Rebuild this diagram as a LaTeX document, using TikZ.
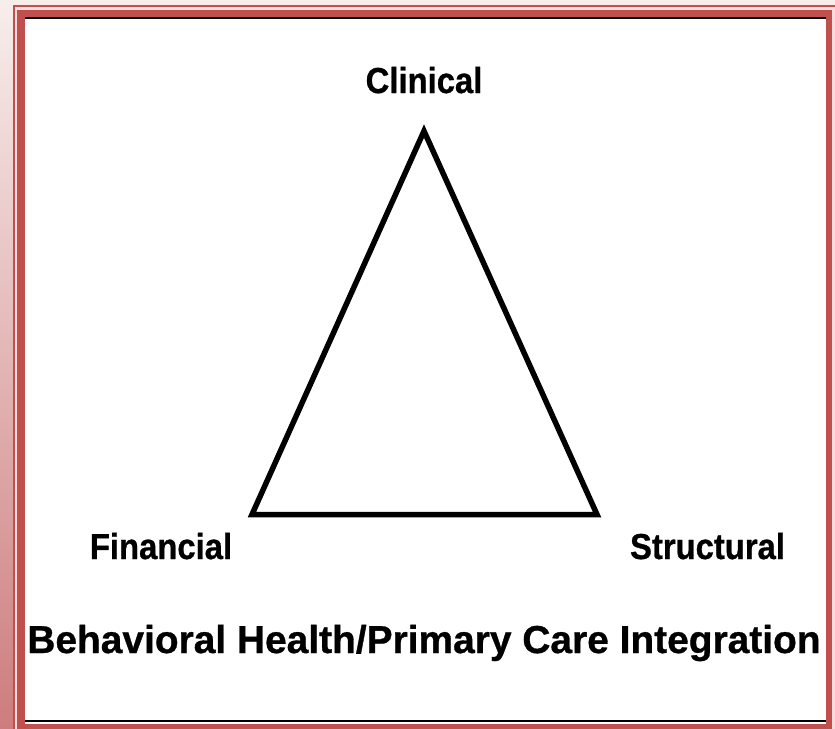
\documentclass[tikz,border=0pt]{standalone}
\usepackage{fontspec}
\setmainfont{Liberation Sans}
\newfontfamily\heavysans{Liberation Sans Bold}[FakeBold=0.8]
\definecolor{framered}{RGB}{192,80,77}
\definecolor{gappink}{RGB}{244,222,221}
\definecolor{bgtop}{RGB}{247,238,236}
\definecolor{bgbot}{RGB}{205,125,125}
\begin{document}
\begin{tikzpicture}[x=1pt,y=-1pt,
  lbl/.style={font=\heavysans\fontsize{32.8}{36}\selectfont, anchor=base, inner sep=0pt},
  ttl/.style={font=\heavysans\fontsize{38.9}{42}\selectfont, anchor=base, inner sep=0pt},
  tri/.style={line width=5.5pt, line join=miter, black}]
\useasboundingbox (0,0) rectangle (835,728);
% background and frame
\shade[top color=bgtop,bottom color=bgbot] (0,0) rectangle (835,728);
\draw[framered, line width=2pt] (14,740) -- (14,6) -- (850,6);
\fill[gappink] (15,7) rectangle (840,740);
\fill[framered] (17.3,9.5) rectangle (832,740);
\fill[white] (25,17) rectangle (826,723.5);
\draw[line width=2pt] (25,18) -- (826,18);
\draw[line width=2pt] (25,721) -- (826,721);
% triangle
\coordinate (top) at (424,131);
\coordinate (bl) at (252,514.5);
\coordinate (br) at (597,514.5);
\draw[tri] (top) -- (bl) -- (br) -- cycle;
% labels
\node[lbl] (clin) at (424,93) {\scalebox{1}[1.1]{Clinical}};
\node[lbl] (fin) at (161,559) {\scalebox{1}[1.1]{Financial}};
\node[lbl] (str) at (707.5,559) {\scalebox{1}[1.1]{Structural}};
\node[ttl] (title) at (424,653) {Behavioral Health/Primary Care Integration};
\end{tikzpicture}
\end{document}
